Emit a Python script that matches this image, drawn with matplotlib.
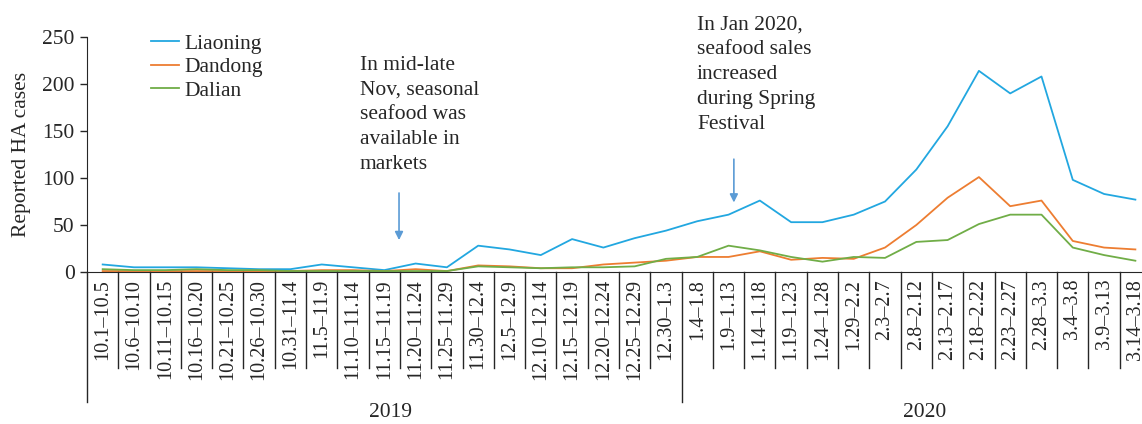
import matplotlib
matplotlib.use('Agg')
from matplotlib import pyplot as plt
from matplotlib.lines import Line2D

plt.rcParams['font.family'] = ['Liberation Serif', 'DejaVu Serif']
plt.rcParams['text.color'] = '#262626'
plt.rcParams['axes.labelcolor'] = '#262626'
plt.rcParams['xtick.color'] = '#262626'
plt.rcParams['ytick.color'] = '#262626'

periods = ['10.1\u201310.5', '10.6\u201310.10', '10.11\u201310.15', '10.16\u201310.20',
           '10.21\u201310.25', '10.26\u201310.30', '10.31\u201311.4', '11.5\u201311.9',
           '11.10\u201311.14', '11.15\u201311.19', '11.20\u201311.24', '11.25\u201311.29',
           '11.30\u201312.4', '12.5\u201312.9', '12.10\u201312.14', '12.15\u201312.19',
           '12.20\u201312.24', '12.25\u201312.29', '12.30\u20131.3',
           '1.4\u20131.8', '1.9\u20131.13', '1.14\u20131.18', '1.19\u20131.23',
           '1.24\u20131.28', '1.29\u20132.2', '2.3\u20132.7', '2.8\u20132.12',
           '2.13\u20132.17', '2.18\u20132.22', '2.23\u20132.27', '2.28\u20133.3',
           '3.4\u20133.8', '3.9\u20133.13', '3.14\u20133.18']
years = ['2019', '2020']
n_2019 = 19

liaoning = [8, 5, 5, 5, 4, 3, 3, 8, 5, 2, 9, 5, 28, 24, 18, 35, 26, 36, 44,
            54, 61, 76, 53, 53, 61, 75, 109, 155, 214, 190, 208, 98, 83, 77]
dandong = [1, 1, 1, 1, 1, 1, 1, 2, 2, 1, 3, 1, 7, 6, 4, 4, 8, 10, 12,
           16, 16, 22, 13, 15, 14, 26, 50, 79, 101, 70, 76, 33, 26, 24]
dalian = [3, 2, 2, 3, 2, 2, 1, 1, 1, 1, 1, 1, 6, 5, 4, 5, 5, 6, 14,
          16, 28, 23, 16, 11, 16, 15, 32, 34, 51, 61, 61, 26, 18, 12]

fig = plt.figure(figsize=(11.42, 4.24), dpi=100)
ax = fig.add_axes([0.0762, 0.3585, 0.9317, 0.5542])

x = list(range(len(periods)))
ax.plot(x, liaoning, color='#22a7e0', lw=1.3, label='Liaoning')
ax.plot(x, dandong, color='#ed7d31', lw=1.3, label='Dandong')
ax.plot(x, dalian, color='#70ad47', lw=1.3, label='Dalian')

ax.set_xlim(-0.5, len(periods) - 0.5)
ax.set_ylim(0, 250)
ax.set_yticks([0, 50, 100, 150, 200, 250])
ax.tick_params(axis='y', labelsize=15.5, length=5, width=1, pad=4)
ax.set_xticks(x)
ax.set_xticklabels(periods, rotation=90, fontsize=14.5)
ax.tick_params(axis='x', length=0, pad=5)
ax.set_ylabel('Reported HA cases', fontsize=15.5, labelpad=8)

for s in ['top', 'right']:
    ax.spines[s].set_visible(False)
ax.spines['left'].set_color('#262626')
ax.spines['bottom'].set_color('#262626')

# multi-level category axis: separators and year labels
tr = ax.get_xaxis_transform()
for i in range(1, len(periods)):
    bottom = -0.553 if i == n_2019 else -0.4085
    ax.add_line(Line2D([i - 0.5, i - 0.5], [0, bottom], transform=tr,
                       color='#262626', lw=1, clip_on=False))
ax.add_line(Line2D([-0.5, -0.5], [0, -0.553], transform=tr,
                   color='#262626', lw=1, clip_on=False))
ax.text(9.2, -0.6, years[0], transform=tr, ha='center', va='center', fontsize=15.5)
ax.text(26.27, -0.6, years[1], transform=tr, ha='center', va='center', fontsize=15.5)

leg = ax.legend(loc='upper left', bbox_to_anchor=(0.06, 1.013), frameon=False,
                fontsize=15.5, handlelength=1.3, handletextpad=0.25,
                labelspacing=0.15, borderpad=0, borderaxespad=0)

ax.text(8.22, 230, 'In mid-late\nNov, seasonal\nseafood was\navailable in\nmarkets',
        ha='left', va='top', fontsize=15.5, linespacing=1.41)
ax.text(18.99, 273, 'In Jan 2020,\nseafood sales\nincreased\nduring Spring\nFestival',
        ha='left', va='top', fontsize=15.5, linespacing=1.43)

arrow_kw = dict(arrowstyle='-|>', color='#5b9bd5', lw=1.2, mutation_scale=12)
ax.annotate('', xy=(9.47, 31), xytext=(9.47, 87), arrowprops=arrow_kw)
ax.annotate('', xy=(20.17, 71), xytext=(20.17, 123), arrowprops=arrow_kw)

plt.savefig('out.png', dpi=100)
plt.close()
